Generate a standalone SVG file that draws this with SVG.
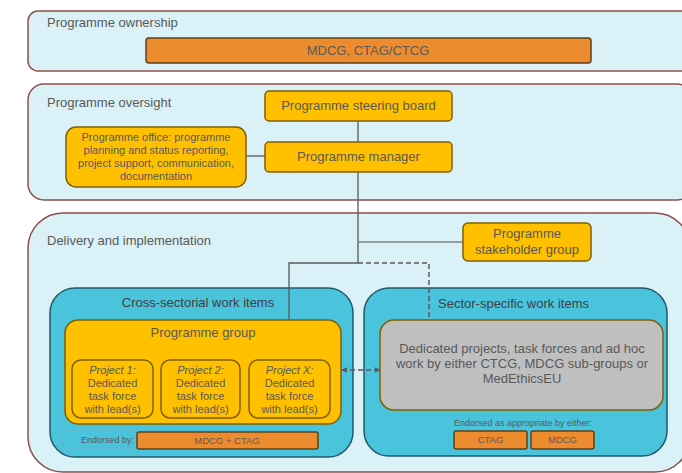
<svg xmlns="http://www.w3.org/2000/svg" width="682" height="473" viewBox="0 0 682 473">
<style>
text{font-family:"Liberation Sans",Arial,sans-serif;fill:#595959}
.panel{fill:#DAF1F8;stroke:#8B5048;stroke-width:1.5}
.cyan{fill:#4AC3DC;stroke:#215A68;stroke-width:1.5}
.yel{fill:#FFC000;stroke:#7F6000;stroke-width:1.5}
.org{fill:#ED8C2F;stroke:#5E4018;stroke-width:1.5}
.gry{fill:#BFBFBF;stroke:#806000;stroke-width:1.5}
.t13{font-size:13px}
.t11{font-size:11px}
.t9{font-size:9px}
.c{text-anchor:middle}
.dk{fill:#404040}
.ln{fill:none;stroke:#595959;stroke-width:1.3}
.dash{fill:none;stroke:#595959;stroke-width:1.5;stroke-dasharray:5 3}
</style>
<defs>
<marker id="ah" viewBox="0 0 10 10" refX="9" refY="5" markerWidth="6" markerHeight="6" orient="auto-start-reverse" markerUnits="userSpaceOnUse">
<path d="M0,0 L10,5 L0,10 z" fill="#595959"/>
</marker>
</defs>

<g id="ownership">
<rect class="panel" x="28" y="11" width="670" height="60" rx="10"/>
<text class="t13" x="47" y="27">Programme ownership</text>
</g>
<g id="oversight">
<rect class="panel" x="28" y="84" width="665" height="116" rx="16"/>
<text class="t13" x="47" y="107">Programme oversight</text>
</g>
<g id="delivery">
<rect class="panel" x="28" y="213" width="662" height="259" rx="35"/>
<text class="t13" x="47" y="245">Delivery and implementation</text>
</g>
<g id="cross-sectorial">
<rect class="cyan" x="50" y="288" width="303" height="169" rx="25"/>
<text class="t13 c dk" x="198" y="307">Cross-sectorial work items</text>
</g>
<g id="sector-specific">
<rect class="cyan" x="364" y="288" width="303" height="168" rx="25"/>
<text class="t13 dk" x="438" y="308">Sector-specific work items</text>
</g>

<g id="connectors">
<line class="ln" x1="358" y1="121" x2="358" y2="142"/>
<line class="ln" x1="246" y1="156" x2="265" y2="156"/>
<polyline class="ln" points="358,172 358,263 289,263 289,320"/>
<line x1="358" y1="242" x2="463" y2="242" stroke="#808080" stroke-width="1.3"/>
<polyline class="dash" points="358,263 429,263 429,320"/>
<line class="dash" x1="342" y1="370" x2="380" y2="370" marker-start="url(#ah)" marker-end="url(#ah)"/>
</g>

<g id="mdcg-ctag-ctcg">
<rect class="org" x="146" y="38" width="445" height="25" rx="3"/>
<text class="t13 c" x="368" y="55">MDCG, CTAG/CTCG</text>
</g>
<g id="steering-board">
<rect class="yel" x="265" y="91" width="187" height="30" rx="4"/>
<text class="t13 c" x="358.5" y="110">Programme steering board</text>
</g>
<g id="programme-manager">
<rect class="yel" x="265" y="142" width="187" height="30" rx="4"/>
<text class="t13 c" x="358.5" y="161">Programme manager</text>
</g>
<g id="programme-office">
<rect class="yel" x="66" y="127" width="180" height="60" rx="10"/>
<text class="t11 c" x="156"><tspan x="156" y="141">Programme office: programme</tspan><tspan x="156" y="154">planning and status reporting,</tspan><tspan x="156" y="167">project support, communication,</tspan><tspan x="156" y="180">documentation</tspan></text>
</g>
<g id="stakeholder-group">
<rect class="yel" x="463" y="223" width="128" height="38" rx="5"/>
<text class="t13 c" x="527"><tspan x="527" y="238">Programme</tspan><tspan x="527" y="254">stakeholder group</tspan></text>
</g>
<g id="programme-group">
<rect class="yel" x="65" y="320" width="276" height="104" rx="13"/>
<text class="t13 c" x="203" y="337">Programme group</text>
</g>
<g id="project-1">
<rect class="yel" x="72" y="360" width="81" height="58" rx="9"/>
<text class="t11 c" x="112.5"><tspan x="112.5" y="374" font-style="italic">Project 1:</tspan><tspan x="112.5" y="387">Dedicated</tspan><tspan x="112.5" y="400">task force</tspan><tspan x="112.5" y="413">with lead(s)</tspan></text>
</g>
<g id="project-2">
<rect class="yel" x="161" y="360" width="79" height="58" rx="9"/>
<text class="t11 c" x="200.5"><tspan x="200.5" y="374" font-style="italic">Project 2:</tspan><tspan x="200.5" y="387">Dedicated</tspan><tspan x="200.5" y="400">task force</tspan><tspan x="200.5" y="413">with lead(s)</tspan></text>
</g>
<g id="project-x">
<rect class="yel" x="249" y="360" width="81" height="58" rx="9"/>
<text class="t11 c" x="289.5"><tspan x="289.5" y="374" font-style="italic">Project X:</tspan><tspan x="289.5" y="387">Dedicated</tspan><tspan x="289.5" y="400">task force</tspan><tspan x="289.5" y="413">with lead(s)</tspan></text>
</g>
<g id="endorsed-cross">
<rect x="62" y="430" width="91" height="18" fill="none" stroke="#8AA9B5" stroke-width="1" stroke-dasharray="1.5 1.5"/>
<text class="t9" x="81" y="443">Endorsed by:</text>
<rect class="org" x="137" y="432" width="181" height="17" rx="2"/>
<text class="c" x="227" y="444" font-size="9.5">MDCG + CTAG</text>
</g>
<g id="sector-work">
<rect class="gry" x="380" y="320" width="283" height="90" rx="14"/>
<text class="t13 c" x="522"><tspan x="522" y="353">Dedicated projects, task forces and ad hoc</tspan><tspan x="522" y="368">work by either CTCG, MDCG sub-groups or</tspan><tspan x="522" y="383">MedEthicsEU</tspan></text>
</g>
<g id="endorsed-sector">
<text class="t9 c" x="523" y="426">Endorsed as appropriate by either:</text>
<rect class="org" x="454" y="431" width="73" height="18" rx="2"/>
<text class="c" x="490.5" y="443" font-size="9.5">CTAG</text>
<rect class="org" x="531" y="431" width="63" height="18" rx="2"/>
<text class="c" x="562.5" y="443" font-size="9.5">MDCG</text>
</g>
</svg>
